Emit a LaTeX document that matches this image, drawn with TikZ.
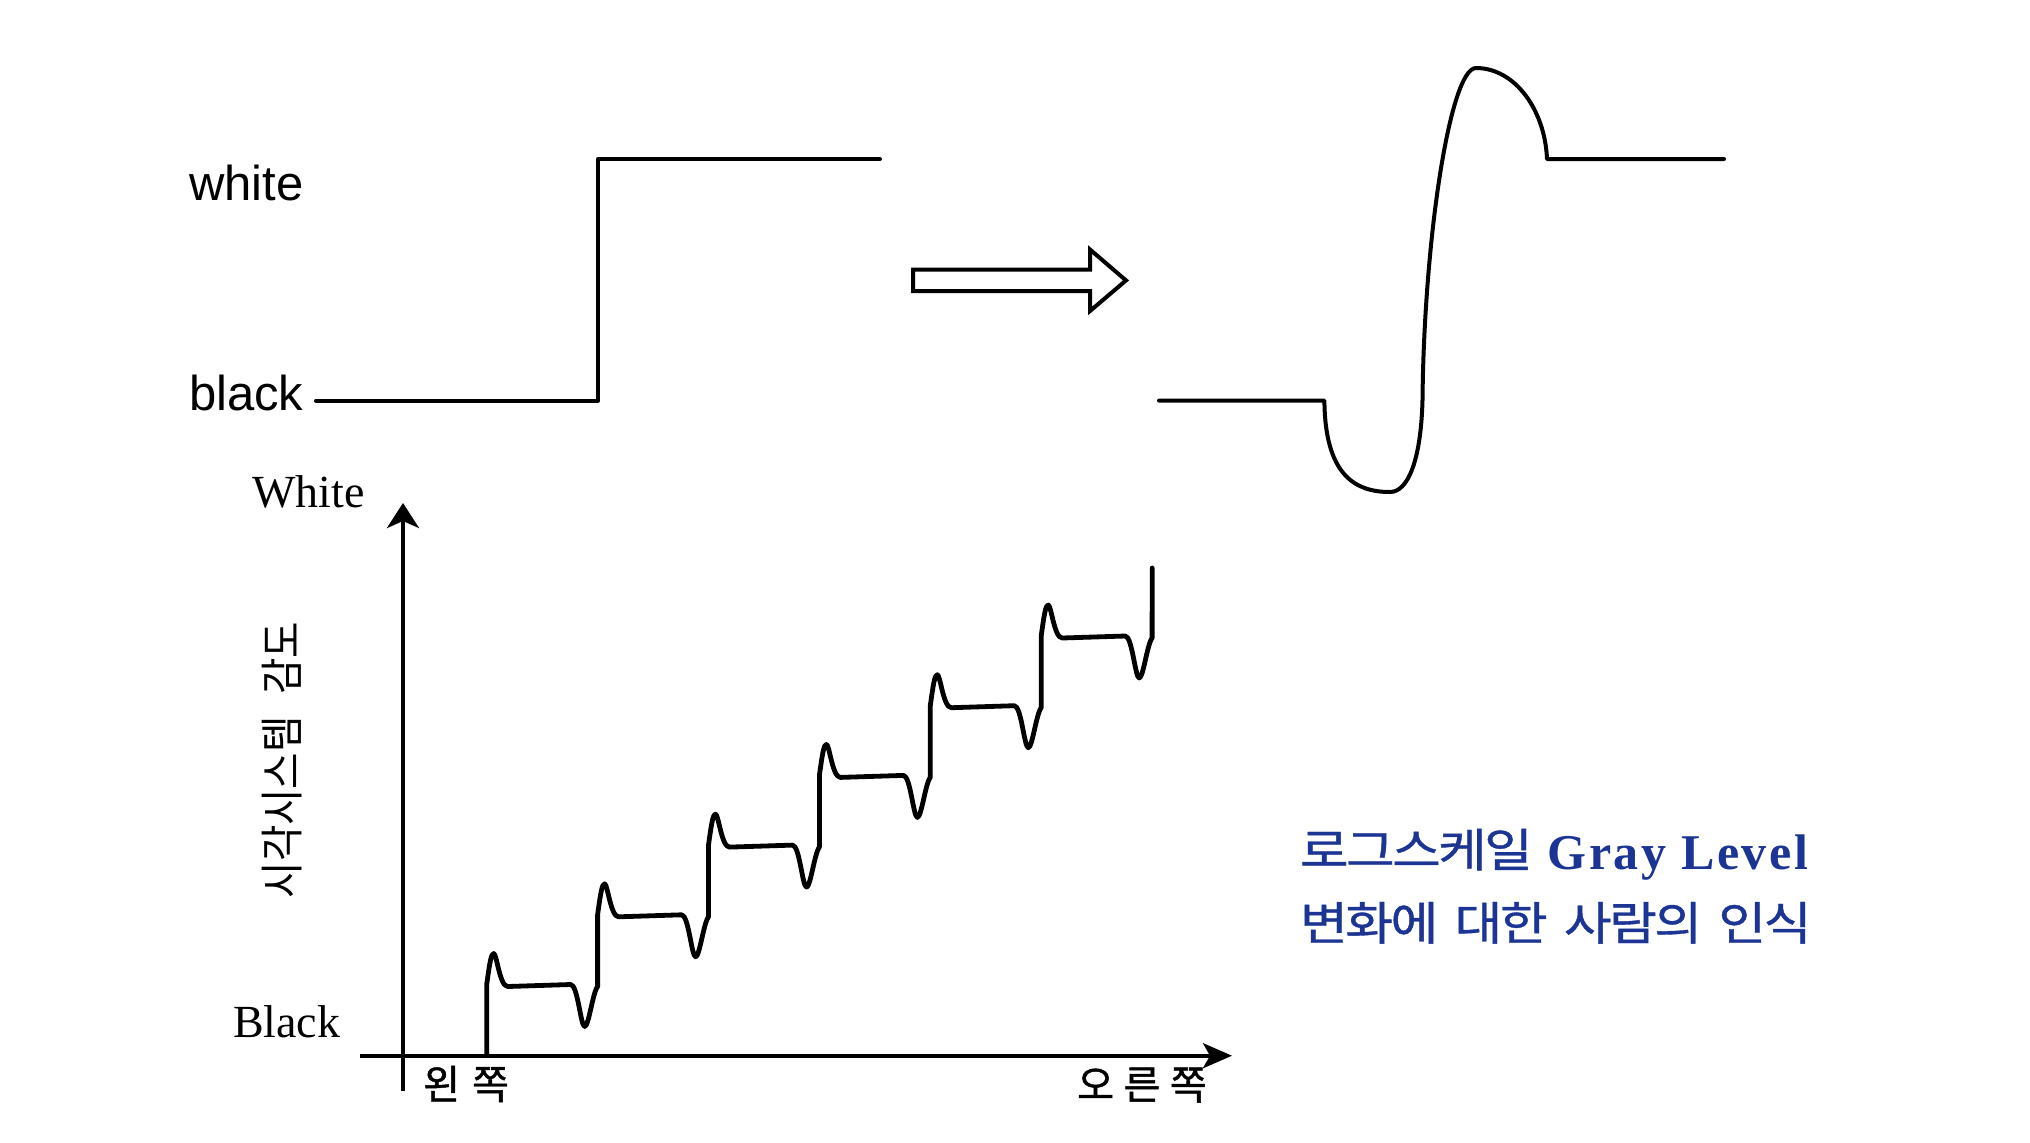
\documentclass[tikz,border=0pt]{standalone}
\usepackage{fontspec}
\usetikzlibrary{arrows.meta}
\newfontfamily\sansf{Liberation Sans}
\newfontfamily\seriff{Liberation Serif}
\newfontfamily\graylevel[LetterSpace=5]{Liberation Serif}
\newfontfamily\krplain{Noto Sans CJK KR}
\newfontfamily\krleft[LetterSpace=30,FakeBold=1.2]{Noto Sans CJK KR}
\newfontfamily\krright[LetterSpace=24,FakeBold=1.2]{Noto Sans CJK KR}
\newfontfamily\krcap[LetterSpace=-5,FakeBold=0.8]{Noto Sans CJK KR}
\definecolor{labelblue}{RGB}{28,52,148}
\begin{document}
\begin{tikzpicture}[x=0.5pt,y=-0.5pt,
  curve/.style={line width=2pt, line join=round, line cap=round},
  stair/.style={line width=2.4pt, line join=round, line cap=round},
  axisline/.style={line width=2pt},
  lbl/.style={inner sep=0pt, outer sep=0pt}]
\useasboundingbox (0,0) rectangle (2030,1142);

% --- top left: ideal step ---
\node[lbl, anchor=base west, font={\sansf\fontsize{24.5}{29}\selectfont}] (white) at (189,200) {white};
\node[lbl, anchor=base west, font={\sansf\fontsize{24.5}{29}\selectfont}] (black) at (189,410) {black};
\coordinate (s0) at (316,400.6);
\coordinate (s1) at (598,400.6);
\coordinate (s2) at (598,159);
\coordinate (s3) at (880,159);
\draw[curve] (s0) -- (s1) -- (s2) -- (s3);

% --- hollow arrow ---
\draw[line width=2pt, line join=miter] (913,269.5) -- (1090,269.5) -- (1090,249.5) -- (1126,280.4) -- (1090,311) -- (1090,291) -- (913,291) -- cycle;

% --- top right: perceived step ---
\coordinate (p0) at (1159,400.6);
\coordinate (p1) at (1324.4,400.6);
\coordinate (p2) at (1547,159);
\coordinate (p3) at (1724,159);
\draw[curve] (p0) -- (p1)
  .. controls (1325,475) and (1355,492) .. (1390,492)
  .. controls (1408,492) and (1421,460) .. (1422.5,400)
  .. controls (1424,240) and (1450,68) .. (1476,68)
  .. controls (1515,68) and (1545,110) .. (p2)
  -- (p3);

% --- bottom graph ---
\node[lbl, anchor=base west, font={\seriff\fontsize{23}{27}\selectfont}] (Wlab) at (252,507.7) {White};
\node[lbl, anchor=base west, font={\seriff\fontsize{23}{27}\selectfont}] (Blab) at (233,1037) {Black};
\coordinate (yb) at (403,1091);
\coordinate (yt) at (403,503);
\coordinate (xl) at (360,1055.7);
\coordinate (xr) at (1232,1055.7);
\draw[axisline, -{Stealth[length=12.5pt,width=16pt,inset=3.5pt]}] (yb) -- (yt);
\draw[axisline, -{Stealth[length=14.5pt,width=12.5pt,inset=3.5pt]}] (xl) -- (xr);

\node[lbl, rotate=90] (ylab) at (282,760)
  {\scalebox{0.9}[1]{\krplain\fontsize{22}{26}\selectfont\spaceskip=12pt 시각시스템 감도}};
\node[lbl, font={\krleft\fontsize{20}{24}\selectfont}] (leftlab) at (466,1084) {왼쪽};
\node[lbl, font={\krright\fontsize{20}{24}\selectfont}] (rightlab) at (1142,1085) {오른쪽};

\draw[stair] (486.7,1055)
  \foreach \i [evaluate=\i as \x using 486.7+110.9*\i, evaluate=\i as \L using 984.5-69.7*\i] in {0,...,5} {
    -- (\x,\L)
    .. controls ({\x+3},{\L-22}) and ({\x+4.5},{\L-31}) .. ({\x+7},{\L-31})
    .. controls ({\x+10},{\L-31}) and ({\x+13},{\L+2}) .. ({\x+21},{\L+2})
    -- ({\x+84},{\L})
    .. controls ({\x+91},{\L}) and ({\x+94},{\L+42}) .. ({\x+98},{\L+42})
    .. controls ({\x+102},{\L+42}) and ({\x+106},{\L+8}) .. ({\x+110.9},{\L+2})
  }
  -- (1152.2,568);

% --- caption ---
\node[lbl, anchor=base west, text=labelblue, font={\graylevel\fontsize{25}{30}\selectfont}] (cap1) at (1300,869.3)
  {\raisebox{1.2pt}{\scalebox{1.15}[1]{\krcap\mdseries\fontsize{23}{28}\selectfont 로그스케일}} \textbf{Gray Level}};
\node[lbl, anchor=base west, text=labelblue] (cap2) at (1300,940)
  {\scalebox{1.13}[1]{\krcap\mdseries\fontsize{23}{28}\selectfont\spaceskip=7.2pt 변화에 대한 사람의 인식}};
\end{tikzpicture}
\end{document}
